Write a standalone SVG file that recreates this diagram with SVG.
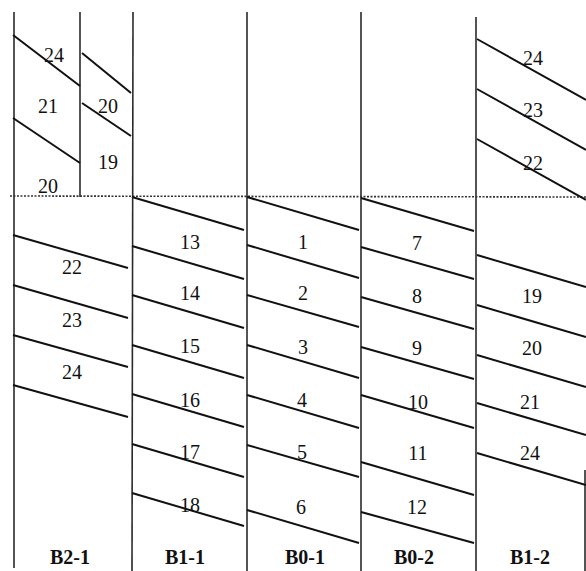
<svg xmlns="http://www.w3.org/2000/svg" width="586" height="571" viewBox="0 0 586 571">
<style>
.v{stroke:#2a2a2a;stroke-width:1.6;fill:none}
.s{stroke:#111;stroke-width:2;fill:none}
.d{stroke:#333;stroke-width:1.6;stroke-dasharray:2,1.5;fill:none}
.n{font-family:"Liberation Serif","Times New Roman",serif;font-size:20px;fill:#111;text-anchor:middle}
.h{font-family:"Liberation Serif","Times New Roman",serif;font-size:20px;font-weight:bold;fill:#111;text-anchor:middle}
</style>
<rect width="586" height="571" fill="#fff"/>
<g id="connectors">
<line class="v" x1="14" y1="12" x2="14" y2="568"/>
<line class="v" x1="80" y1="12" x2="80" y2="197"/>
<line class="v" x1="133" y1="12" x2="132" y2="571"/>
<line class="v" x1="247" y1="12" x2="247" y2="571"/>
<line class="v" x1="361" y1="12" x2="361" y2="571"/>
<line class="v" x1="476" y1="17" x2="476" y2="571"/>
<line class="v" x1="585" y1="470" x2="585" y2="571"/>
<line class="d" x1="10" y1="196" x2="586" y2="197"/>
</g>
<g id="B2-1">
<line class="s" x1="13" y1="35" x2="80" y2="86"/>
<line class="s" x1="13" y1="118" x2="80" y2="163"/>
<line class="s" x1="82" y1="53" x2="131" y2="93"/>
<line class="s" x1="82" y1="103" x2="131" y2="136"/>
<line class="s" x1="13" y1="235" x2="128" y2="268"/>
<line class="s" x1="13" y1="285" x2="128" y2="318"/>
<line class="s" x1="13" y1="335" x2="128" y2="367"/>
<line class="s" x1="13" y1="385" x2="128" y2="417"/>
<text class="n" x="54" y="62">24</text>
<text class="n" x="48" y="113">21</text>
<text class="n" x="108" y="113">20</text>
<text class="n" x="108" y="169">19</text>
<text class="n" x="48" y="193">20</text>
<text class="n" x="72" y="274">22</text>
<text class="n" x="72" y="327">23</text>
<text class="n" x="72" y="379">24</text>
<text class="h" x="70" y="564">B2-1</text>
</g>
<g id="B1-1">
<line class="s" x1="132" y1="197" x2="244" y2="230"/>
<line class="s" x1="132" y1="246" x2="244" y2="279"/>
<line class="s" x1="132" y1="295" x2="244" y2="328"/>
<line class="s" x1="132" y1="345" x2="244" y2="378"/>
<line class="s" x1="132" y1="394" x2="244" y2="427"/>
<line class="s" x1="132" y1="444" x2="244" y2="477"/>
<line class="s" x1="132" y1="493" x2="244" y2="526"/>
<text class="n" x="190" y="249">13</text>
<text class="n" x="190" y="300">14</text>
<text class="n" x="190" y="353">15</text>
<text class="n" x="190" y="407">16</text>
<text class="n" x="190" y="459">17</text>
<text class="n" x="190" y="512">18</text>
<text class="h" x="185" y="564">B1-1</text>
</g>
<g id="B0-1">
<line class="s" x1="247" y1="197" x2="359" y2="230"/>
<line class="s" x1="247" y1="245" x2="359" y2="278"/>
<line class="s" x1="247" y1="295" x2="359" y2="327"/>
<line class="s" x1="247" y1="345" x2="359" y2="378"/>
<line class="s" x1="247" y1="395" x2="359" y2="428"/>
<line class="s" x1="247" y1="445" x2="359" y2="477"/>
<line class="s" x1="247" y1="510" x2="359" y2="543"/>
<text class="n" x="303" y="249">1</text>
<text class="n" x="303" y="300">2</text>
<text class="n" x="303" y="354">3</text>
<text class="n" x="302" y="407">4</text>
<text class="n" x="302" y="459">5</text>
<text class="n" x="301" y="514">6</text>
<text class="h" x="305" y="564">B0-1</text>
</g>
<g id="B0-2">
<line class="s" x1="361" y1="198" x2="474" y2="231"/>
<line class="s" x1="361" y1="247" x2="474" y2="279"/>
<line class="s" x1="361" y1="297" x2="474" y2="329"/>
<line class="s" x1="361" y1="347" x2="474" y2="379"/>
<line class="s" x1="361" y1="395" x2="474" y2="428"/>
<line class="s" x1="361" y1="462" x2="474" y2="495"/>
<line class="s" x1="361" y1="512" x2="474" y2="543"/>
<text class="n" x="417" y="250">7</text>
<text class="n" x="417" y="303">8</text>
<text class="n" x="417" y="355">9</text>
<text class="n" x="418" y="409">10</text>
<text class="n" x="418" y="460">11</text>
<text class="n" x="417" y="514">12</text>
<text class="h" x="414" y="564">B0-2</text>
</g>
<g id="B1-2">
<line class="s" x1="477" y1="39" x2="586" y2="100"/>
<line class="s" x1="477" y1="89" x2="586" y2="150"/>
<line class="s" x1="477" y1="139" x2="586" y2="200"/>
<line class="s" x1="477" y1="255" x2="586" y2="287"/>
<line class="s" x1="477" y1="305" x2="586" y2="337"/>
<line class="s" x1="477" y1="355" x2="586" y2="387"/>
<line class="s" x1="477" y1="403" x2="586" y2="435"/>
<line class="s" x1="477" y1="453" x2="586" y2="485"/>
<text class="n" x="533" y="65">24</text>
<text class="n" x="533" y="117">23</text>
<text class="n" x="533" y="170">22</text>
<text class="n" x="532" y="303">19</text>
<text class="n" x="532" y="355">20</text>
<text class="n" x="530" y="409">21</text>
<text class="n" x="530" y="460">24</text>
<text class="h" x="530" y="564">B1-2</text>
</g>
</svg>
